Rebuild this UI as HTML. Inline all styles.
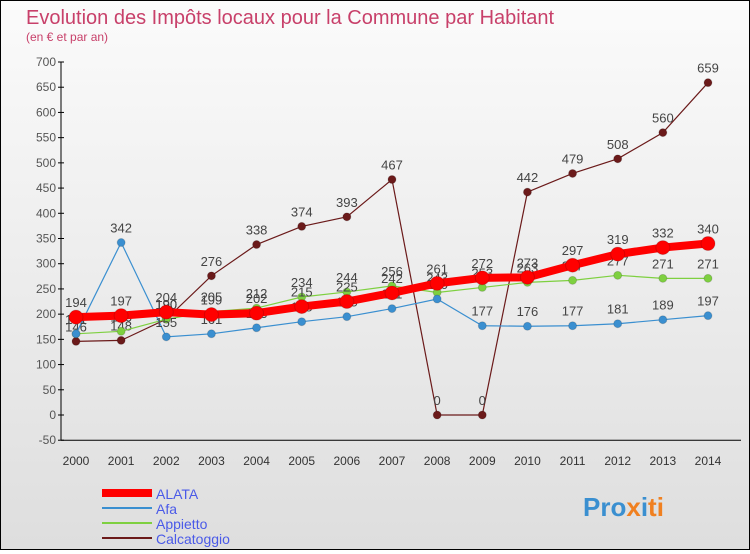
<!DOCTYPE html>
<html><head><meta charset="utf-8"><style>
body{margin:0;width:750px;height:550px;overflow:hidden;font-family:"Liberation Sans",sans-serif}
#wrap{position:absolute;left:0;top:0;width:748px;height:548px;border:1px solid #000;background:linear-gradient(#fbfbfb,#dedede)}
</style></head><body>
<div id="wrap">
<svg id="c" width="748" height="548" xmlns="http://www.w3.org/2000/svg">
<text x="25" y="23" font-size="20" fill="#c8406a">Evolution des Impôts locaux pour la Commune par Habitant</text>
<text x="25" y="40" font-size="12" fill="#c8406a">(en € et par an)</text>
<g id="axes"></g><g id="series"></g>
<g>
<line x1="101" y1="492" x2="151" y2="492" stroke="#ff0000" stroke-width="8"/>
<text x="155" y="498" font-size="14" fill="#4a5ae8">ALATA</text>
<line x1="101" y1="507" x2="151" y2="507" stroke="#3a8fd0" stroke-width="2"/>
<text x="155" y="513" font-size="14" fill="#4a5ae8">Afa</text>
<line x1="101" y1="522" x2="151" y2="522" stroke="#7ed040" stroke-width="2"/>
<text x="155" y="528" font-size="14" fill="#4a5ae8">Appietto</text>
<line x1="101" y1="537" x2="151" y2="537" stroke="#6b1a1a" stroke-width="2"/>
<text x="155" y="543" font-size="14" fill="#4a5ae8">Calcatoggio</text>
</g>
<text x="582" y="515" font-size="26" font-weight="bold" fill="#3a8fd0">Pro<tspan fill="#f08020">x</tspan><tspan fill="#3a8fd0">i</tspan><tspan fill="#f08020">ti</tspan></text>
</svg></div>
<script>
const years=[2000,2001,2002,2003,2004,2005,2006,2007,2008,2009,2010,2011,2012,2013,2014];
const alata=[194,197,204,199,202,215,225,242,261,272,273,297,319,332,340];
const afa=[161,342,155,161,173,185,195,211,230,177,176,177,181,189,197];
const appietto=[161,166,190,205,212,234,244,256,243,253,263,267,277,271,271];
const calcatoggio=[146,148,190,276,338,374,393,467,0,0,442,479,508,560,659];
const yTicks=[-50,0,50,100,150,200,250,300,350,400,450,500,550,600,650,700];
const NS="http://www.w3.org/2000/svg";
const x=i=>75+i*(632/14);
const y=v=>414-v*(353/700);
function mk(tag,at,parent){const e=document.createElementNS(NS,tag);for(const k in at)e.setAttribute(k,at[k]);parent.appendChild(e);return e;}
const axes=document.getElementById('axes'),ser=document.getElementById('series');
let a=mk('line',{x1:60,y1:y(700),x2:60,y2:y(-50),stroke:'#000'},axes);


yTicks.forEach(t=>{
 const l=mk('line',{x1:57,y1:y(t),x2:63,y2:y(t),stroke:'#000'},axes);
 
 
 const tx=mk('text',{x:55,y:y(t)+4,'font-size':12,fill:'#555','text-anchor':'end'},axes);
 tx.textContent=t;
 
 
});
a=mk('line',{x1:60,y1:y(-50),x2:740,y2:y(-50),stroke:'#000'},axes);


years.forEach((yr,i)=>{
 const tx=mk('text',{x:x(i),y:464,'font-size':12,fill:'#333','text-anchor':'middle'},axes);
 tx.textContent=yr;
 
 
});
function draw(vals,color,w,r,name){
 const g=mk('g',{},ser);
 
 
 const p=mk('polyline',{points:vals.map((v,i)=>x(i)+','+y(v)).join(' '),fill:'none',stroke:color,'stroke-width':w},g);
 
 
 vals.forEach((v,i)=>{
  const c=mk('circle',{cx:x(i),cy:y(v),r:r,fill:color,stroke:'rgba(0,0,0,0.15)'},g);
  
  
  const t=mk('text',{x:x(i),y:y(v)-10,'font-size':13,fill:'#444','text-anchor':'middle'},g);
  t.textContent=v;
  
  
 });
}
draw(calcatoggio,'#6b1a1a',1.2,4,'calcatoggio');
draw(appietto,'#7ed040',1.2,4,'appietto');
draw(afa,'#3a8fd0',1.2,4,'afa');
draw(alata,'#ff0000',8,7,'alata');
</script>
</body></html>
